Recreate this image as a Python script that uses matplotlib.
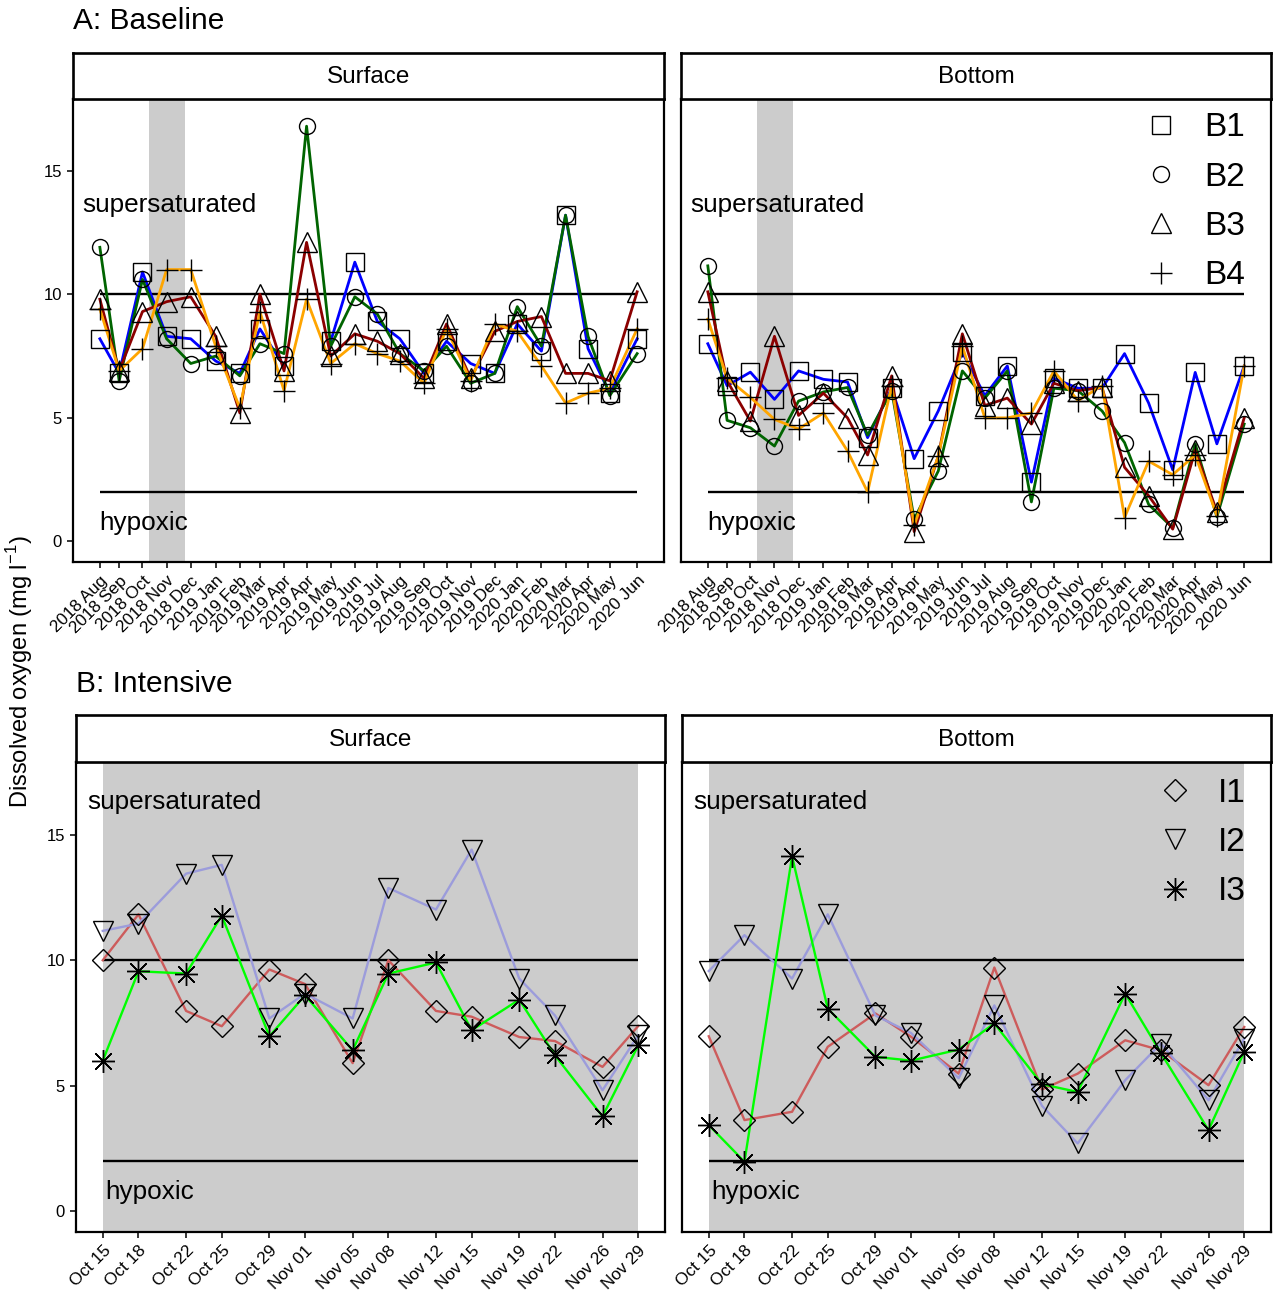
import numpy as np
import pandas as pd
import matplotlib
matplotlib.use('Agg')
import matplotlib.pyplot as plt
import matplotlib.dates as mdates
from matplotlib.lines import Line2D

plt.rcParams['font.family'] = ['Liberation Sans', 'DejaVu Sans']
plt.rcParams['mathtext.fontset'] = 'custom'
plt.rcParams['mathtext.rm'] = 'Liberation Sans'

# sampling dates
baseline_dates = pd.to_datetime([
    '2018-08-15', '2018-09-08', '2018-10-07', '2018-11-06', '2018-12-06',
    '2019-01-06', '2019-02-05', '2019-03-02', '2019-04-01', '2019-04-29',
    '2019-05-29', '2019-06-28', '2019-07-26', '2019-08-23', '2019-09-22',
    '2019-10-20', '2019-11-19', '2019-12-19', '2020-01-16', '2020-02-15',
    '2020-03-16', '2020-04-13', '2020-05-10', '2020-06-13'])
intensive_dates = pd.to_datetime([
    '2018-10-15', '2018-10-18', '2018-10-22', '2018-10-25', '2018-10-29',
    '2018-11-01', '2018-11-05', '2018-11-08', '2018-11-12', '2018-11-15',
    '2018-11-19', '2018-11-22', '2018-11-26', '2018-11-29'])

# baseline dissolved oxygen (mg/l)
b1_surface = [8.2, 6.8, 10.9, 8.3, 8.2, 7.3, 6.8, 8.6, 7.1, np.nan, 8.1, 11.3,
              8.9, 8.2, 6.8, 8.1, 7.2, 6.8, 8.8, 7.7, 13.2, 7.8, 6.0, 8.2]
b2_surface = [11.9, 6.5, 10.6, 8.2, 7.2, 7.5, 6.7, 8.0, 7.6, 16.8, 7.9, 9.9,
              9.2, 7.6, 6.9, 7.9, 6.4, 6.8, 9.5, 7.9, 13.2, 8.3, 5.9, 7.6]
b3_surface = [9.8, 6.9, 9.3, 9.7, 9.9, 8.3, 5.2, 10.0, 6.9, 12.1, 7.5, 8.4,
              8.1, 7.6, 6.6, 8.8, 6.6, 8.5, 8.9, 9.1, 6.8, 6.8, 6.5, 10.1]
b4_surface = [9.4, 6.9, 7.8, 11.0, 11.0, 7.9, 5.4, 9.3, 6.1, 9.8, 7.2, 8.0,
              7.6, 7.3, 6.4, 8.6, 6.5, 8.8, 8.5, 7.1, 5.6, 6.0, 6.2, 8.6]

b1_bottom = [8.0, 6.3, 6.85, 5.75, 6.9, 6.56, 6.45, 4.2, 6.2, 3.35, 5.28, 7.65,
             5.9, 7.1, 2.4, 6.6, 6.2, 6.2, 7.6, 5.6, 2.9, 6.84, 3.95, 7.1]
b2_bottom = [11.15, 4.9, 4.6, 3.86, 5.68, 6.05, 6.23, 4.3, 6.1, 0.9, 2.85, 6.9,
             5.8, 6.9, 1.6, 6.2, 6.1, 5.28, 4.0, 1.5, 0.55, 3.95, 1.0, 4.75]
b3_bottom = [10.1, 6.5, 4.87, 8.3, 5.1, 6.0, 5.0, 3.5, 6.7, 0.4, 3.45, 8.4,
             5.5, 5.8, 4.75, 6.4, 6.1, 6.23, 3.0, 1.85, 0.5, 3.7, 1.2, 5.0]
b4_bottom = [9.0, 6.6, 5.83, 4.94, 4.55, 5.2, 3.66, 2.0, 6.3, 0.65, 3.45, 7.9,
             5.0, 5.0, 5.2, 6.9, 5.7, 6.3, 0.97, 3.25, 2.7, 3.5, 1.05, 7.1]

# intensive dissolved oxygen (mg/l)
i1_surface = [10.0, 11.83, 7.98, 7.37, 9.63, 9.05, 5.9, 10.0, 7.98, 7.75, 6.94, 6.78, 5.75, 7.38]
i2_surface = [11.17, 11.46, 13.45, 13.8, 7.68, 8.67, 7.68, 12.88, 12.02, 14.41, 9.27, 7.8, 4.82, 7.01]
i3_surface = [6.0, 9.56, 9.47, 11.78, 6.97, 8.6, 6.41, 9.47, 9.91, 7.21, 8.43, 6.21, 3.78, 6.61]

i1_bottom = [6.97, 3.63, 3.96, 6.55, 7.88, 6.95, 5.48, 9.71, 4.85, 5.48, 6.81, 6.41, 5.02, 7.34]
i2_bottom = [9.57, 11.0, 9.27, 11.83, 7.8, 7.1, 5.3, 8.2, 4.2, 2.7, 5.22, 6.68, 4.42, 6.88]
i3_bottom = [3.43, 1.97, 14.14, 8.07, 6.15, 6.0, 6.44, 7.48, 5.06, 4.75, 8.67, 6.3, 3.23, 6.35]

baseline_sites = ['B1', 'B2', 'B3', 'B4']
baseline_colors = ['#0000FF', '#006400', '#8B0000', '#FFA500']
baseline_markers = ['s', 'o', '^', '+']
baseline_ms = [13, 11.5, 14, 15.5]

intensive_sites = ['I1', 'I2', 'I3']
intensive_colors = ['#CD5C5C', '#9C9CDB', '#00FF00']
intensive_markers = ['D', 'v', (8, 2, 0)]
intensive_ms = [11, 15, 16.5]

supersat = 10
hypoxic = 2
intensive_start = intensive_dates[0]
intensive_end = intensive_dates[-1]

W, H = 1273, 1299
fig = plt.figure(figsize=(W / 100, H / 100), dpi=100)


def box(x0, y0, x1, y1):
    return [x0 / W, 1 - y1 / H, (x1 - x0) / W, (y1 - y0) / H]


def strip(rect, label):
    s = fig.add_axes(rect)
    s.set_xticks([])
    s.set_yticks([])
    for sp in s.spines.values():
        sp.set_linewidth(1.9)
    s.text(0.5, 0.47, label, ha='center', va='center', fontsize=17.5, transform=s.transAxes)


def panel(ax, dates, series, colors, markers, sizes, lw, shade_all, left, fmt, txt_y):
    if shade_all:
        ax.axvspan(dates[0], dates[-1], color='#CCCCCC', lw=0, zorder=0)
    else:
        ax.axvspan(intensive_start, intensive_end, color='#CCCCCC', lw=0, zorder=0)
    ax.hlines([supersat, hypoxic], dates[0], dates[-1], color='black', lw=1.7, zorder=1)
    for vals, c in zip(series, colors):
        ax.plot(dates, vals, color=c, lw=lw, zorder=2)
    for vals, m, ms in zip(series, markers, sizes):
        ax.plot(dates, vals, ls='none', marker=m, ms=ms, mfc='none', mec='black',
                mew=1.0, zorder=3)
    ax.text(txt_y[0], txt_y[1], 'supersaturated', transform=ax.get_yaxis_transform(),
            fontsize=18.8, ha='left', va='center')
    ax.text(txt_y[2], txt_y[3], 'hypoxic', transform=ax.get_yaxis_transform(),
            fontsize=18.8, ha='left', va='center')
    ax.set_ylim(-0.83, 17.9)
    ax.margins(x=0.05)
    ax.set_xticks(dates)
    ax.set_xticklabels([d.strftime(fmt) for d in dates], rotation=45, ha='right',
                       va='top', rotation_mode='anchor', fontsize=12.3)
    ax.set_yticks([0, 5, 10, 15])
    if left:
        ax.tick_params(axis='y', labelsize=12, length=4.5, width=1.1)
    else:
        ax.tick_params(axis='y', left=False, labelleft=False)
    ax.tick_params(axis='x', length=4.5, width=1.1)
    for sp in ax.spines.values():
        sp.set_linewidth(1.6)


# A: baseline
ax_as = fig.add_axes(box(73, 99, 664, 562))
ax_ab = fig.add_axes(box(681, 99, 1271, 562))
strip(box(73, 53, 664, 99), 'Surface')
strip(box(681, 53, 1271, 99), 'Bottom')
panel(ax_as, baseline_dates, [b1_surface, b2_surface, b3_surface, b4_surface],
      baseline_colors, baseline_markers, baseline_ms, 2.0, False, True, '%Y %b',
      (0.015, 13.6, 0.044, 0.73))
panel(ax_ab, baseline_dates, [b1_bottom, b2_bottom, b3_bottom, b4_bottom],
      baseline_colors, baseline_markers, baseline_ms, 2.0, False, False, '%Y %b',
      (0.015, 13.6, 0.044, 0.73))

# B: intensive
ax_bs = fig.add_axes(box(76, 762, 665, 1232))
ax_bb = fig.add_axes(box(682, 762, 1271, 1232))
strip(box(76, 715, 665, 762), 'Surface')
strip(box(682, 715, 1271, 762), 'Bottom')
panel(ax_bs, intensive_dates, [i1_surface, i2_surface, i3_surface],
      intensive_colors, intensive_markers, intensive_ms, 1.7, True, True, '%b %d',
      (0.019, 16.3, 0.049, 0.76))
panel(ax_bb, intensive_dates, [i1_bottom, i2_bottom, i3_bottom],
      intensive_colors, intensive_markers, intensive_ms, 1.7, True, False, '%b %d',
      (0.02, 16.3, 0.049, 0.76))

# site legends
h_base = [Line2D([], [], ls='none', marker=m, ms=ms, mfc='none', mec='black', mew=1.0)
          for m, ms in zip(baseline_markers, baseline_ms)]
ax_ab.legend(h_base, baseline_sites, loc='upper left', bbox_to_anchor=(0.748, 1.0),
             frameon=False, fontsize=24, handletextpad=0.55, labelspacing=0.55,
             borderaxespad=0, handlelength=1.5)
h_int = [Line2D([], [], ls='none', marker=m, ms=ms, mfc='none', mec='black', mew=1.0)
         for m, ms in zip(intensive_markers, intensive_ms)]
ax_bb.legend(h_int, intensive_sites, loc='upper left', bbox_to_anchor=(0.772, 0.995),
             frameon=False, fontsize=24, handletextpad=0.55, labelspacing=0.55,
             borderaxespad=0, handlelength=1.5)

fig.text(73 / W, 1 - 21 / H, 'A: Baseline', fontsize=21.5, ha='left', va='center')
fig.text(76 / W, 1 - 684 / H, 'B: Intensive', fontsize=21.5, ha='left', va='center')
fig.text(20 / W, 1 - 672 / H, r'Dissolved oxygen (mg l$^{\mathregular{-1}}$)',
         rotation=90, fontsize=17, ha='center', va='center')

fig.savefig('out.png', dpi=100)
